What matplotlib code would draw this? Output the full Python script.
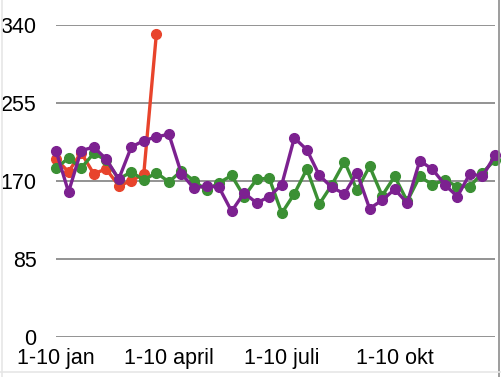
import matplotlib
matplotlib.use("Agg")
import matplotlib.pyplot as plt
from matplotlib.lines import Line2D

plt.rcParams["font.family"] = ["Liberation Sans", "DejaVu Sans"]

# one point per 10-day period (36 per year)
tick_labels = ["1-10 jan", "1-10 april", "1-10 juli", "1-10 okt"]
tick_idx = [0, 9, 18, 27]
y_ticks = [0, 85, 170, 255, 340]

red = [194, 180, 201, 178, 183, 165, 170, 178, 330]
green = [184, 195, 184, 200, 193, 172, 180, 171, 179, 169,
         181, 170, 160, 168, 176, 153, 172, 173, 135, 156,
         183, 145, 166, 191, 160, 186, 154, 175, 148, 175,
         166, 171, 164, 164, 179, 193]
purple = [203, 158, 203, 207, 194, 172, 207, 214, 218, 221,
          178, 162, 165, 163, 137, 157, 146, 153, 166, 217,
          204, 176, 163, 156, 179, 140, 149, 161, 146, 192,
          183, 166, 153, 178, 175, 198]

colors = {"red": "#e8442c", "green": "#3b9034", "purple": "#7c2190"}

W, H = 501, 377
fig = plt.figure(figsize=(W / 100, H / 100), dpi=100)
ax = fig.add_axes([56 / W, 40 / H, 439 / W, 312 / H])

for vals, c in [(red, colors["red"]), (green, colors["green"]), (purple, colors["purple"])]:
    ax.plot(range(len(vals)), vals, color=c, lw=2.4, marker="o", ms=7,
            clip_on=False, zorder=3)

ax.set_xlim(0, 35)
ax.set_ylim(0, 340)
ax.set_yticks(y_ticks)
ax.set_yticklabels([str(v) for v in y_ticks])
ax.set_xticks(tick_idx)
ax.set_xticklabels(tick_labels)
ax.tick_params(length=0, labelsize=15.5, colors="black")
ax.tick_params(axis="y", pad=14)
ax.tick_params(axis="x", pad=8)
ax.yaxis.grid(True, color="#8a8a8a", lw=1.3)
ax.set_axisbelow(True)
for s in ax.spines.values():
    s.set_visible(False)

# faint frame around the image
fig.add_artist(Line2D([2 / W, 2 / W], [0, 1], color="#e6e6e6", lw=1.2, transform=fig.transFigure))
fig.add_artist(Line2D([499 / W, 499 / W], [0, 1], color="#8c8c8c", lw=1.2, transform=fig.transFigure))
fig.add_artist(Line2D([0, 1], [5 / H, 5 / H], color="#e6e6e6", lw=1.2, transform=fig.transFigure))

fig.savefig("out.png", dpi=100)
